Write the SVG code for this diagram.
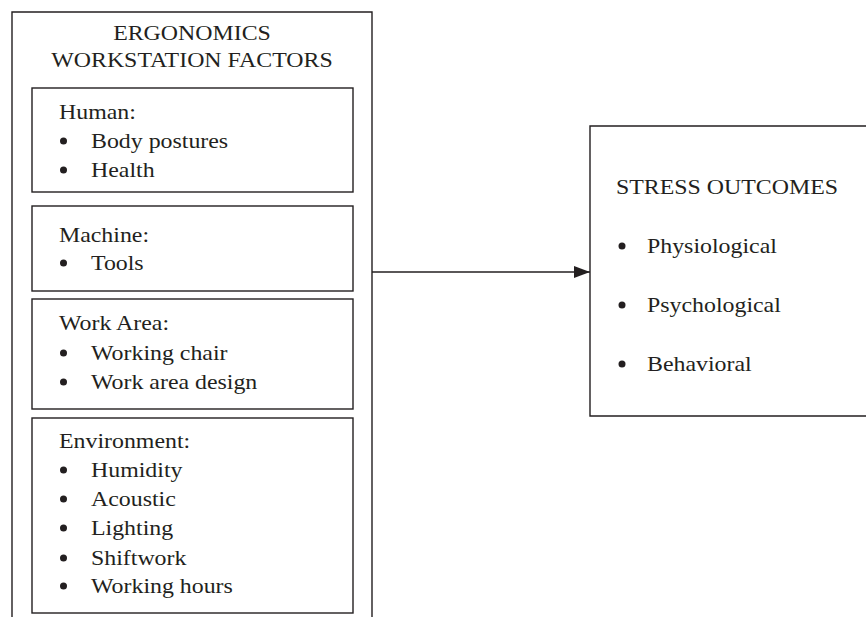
<svg xmlns="http://www.w3.org/2000/svg" width="866" height="617" viewBox="0 0 866 617">
<defs>
<style>
.box{fill:none;stroke:#231f20;stroke-width:1.4}
.t{font-family:"Liberation Serif","Times New Roman",serif;font-size:22px;fill:#231f20;transform-box:fill-box;transform-origin:0 0;transform:scaleX(1.085)}
.c{text-anchor:middle;transform-origin:50% 0}
.b{fill:#231f20}
.ln{stroke:#231f20;stroke-width:1.3;fill:none}
</style>
<marker id="ah" markerWidth="16" markerHeight="12" refX="16" refY="6" orient="auto" markerUnits="userSpaceOnUse">
<path d="M0,0 L16,6 L0,12 Z" fill="#231f20"/>
</marker>
</defs>
<rect width="866" height="617" fill="#fff"/>
<g id="ergonomics">
<path class="box" d="M12,617 V12 H372 V617"/>
<text class="t c" x="192" y="40">ERGONOMICS</text>
<text class="t c" x="192" y="67">WORKSTATION FACTORS</text>
</g>
<g id="human">
<rect class="box" x="32" y="88" width="321" height="104"/>
<text class="t" x="59" y="119">Human:</text>
<circle class="b" cx="63.5" cy="141" r="3.5"/><text class="t" x="91" y="148">Body postures</text>
<circle class="b" cx="63.5" cy="170" r="3.5"/><text class="t" x="91" y="177">Health</text>
</g>
<g id="machine">
<rect class="box" x="32" y="206" width="321" height="85"/>
<text class="t" x="59" y="242">Machine:</text>
<circle class="b" cx="63.5" cy="263" r="3.5"/><text class="t" x="91" y="270">Tools</text>
</g>
<g id="workarea">
<rect class="box" x="32" y="299" width="321" height="110"/>
<text class="t" x="59" y="330">Work Area:</text>
<circle class="b" cx="63.5" cy="353" r="3.5"/><text class="t" x="91" y="360">Working chair</text>
<circle class="b" cx="63.5" cy="382" r="3.5"/><text class="t" x="91" y="389">Work area design</text>
</g>
<g id="environment">
<rect class="box" x="32" y="418" width="321" height="195"/>
<text class="t" x="59" y="448">Environment:</text>
<circle class="b" cx="63.5" cy="470" r="3.5"/><text class="t" x="91" y="477">Humidity</text>
<circle class="b" cx="63.5" cy="499" r="3.5"/><text class="t" x="91" y="506">Acoustic</text>
<circle class="b" cx="63.5" cy="528" r="3.5"/><text class="t" x="91" y="535">Lighting</text>
<circle class="b" cx="63.5" cy="558" r="3.5"/><text class="t" x="91" y="565">Shiftwork</text>
<circle class="b" cx="63.5" cy="586" r="3.5"/><text class="t" x="91" y="593">Working hours</text>
</g>
<g id="stress">
<path class="box" d="M870,126 H590 V416 H870"/>
<text class="t" x="616" y="194">STRESS OUTCOMES</text>
<circle class="b" cx="622" cy="246" r="3.5"/><text class="t" x="647" y="253">Physiological</text>
<circle class="b" cx="622" cy="305" r="3.5"/><text class="t" x="647" y="312">Psychological</text>
<circle class="b" cx="622" cy="364" r="3.5"/><text class="t" x="647" y="371">Behavioral</text>
</g>
<g id="connectors">
<line class="ln" x1="372" y1="272" x2="590" y2="272" marker-end="url(#ah)"/>
</g>
</svg>
